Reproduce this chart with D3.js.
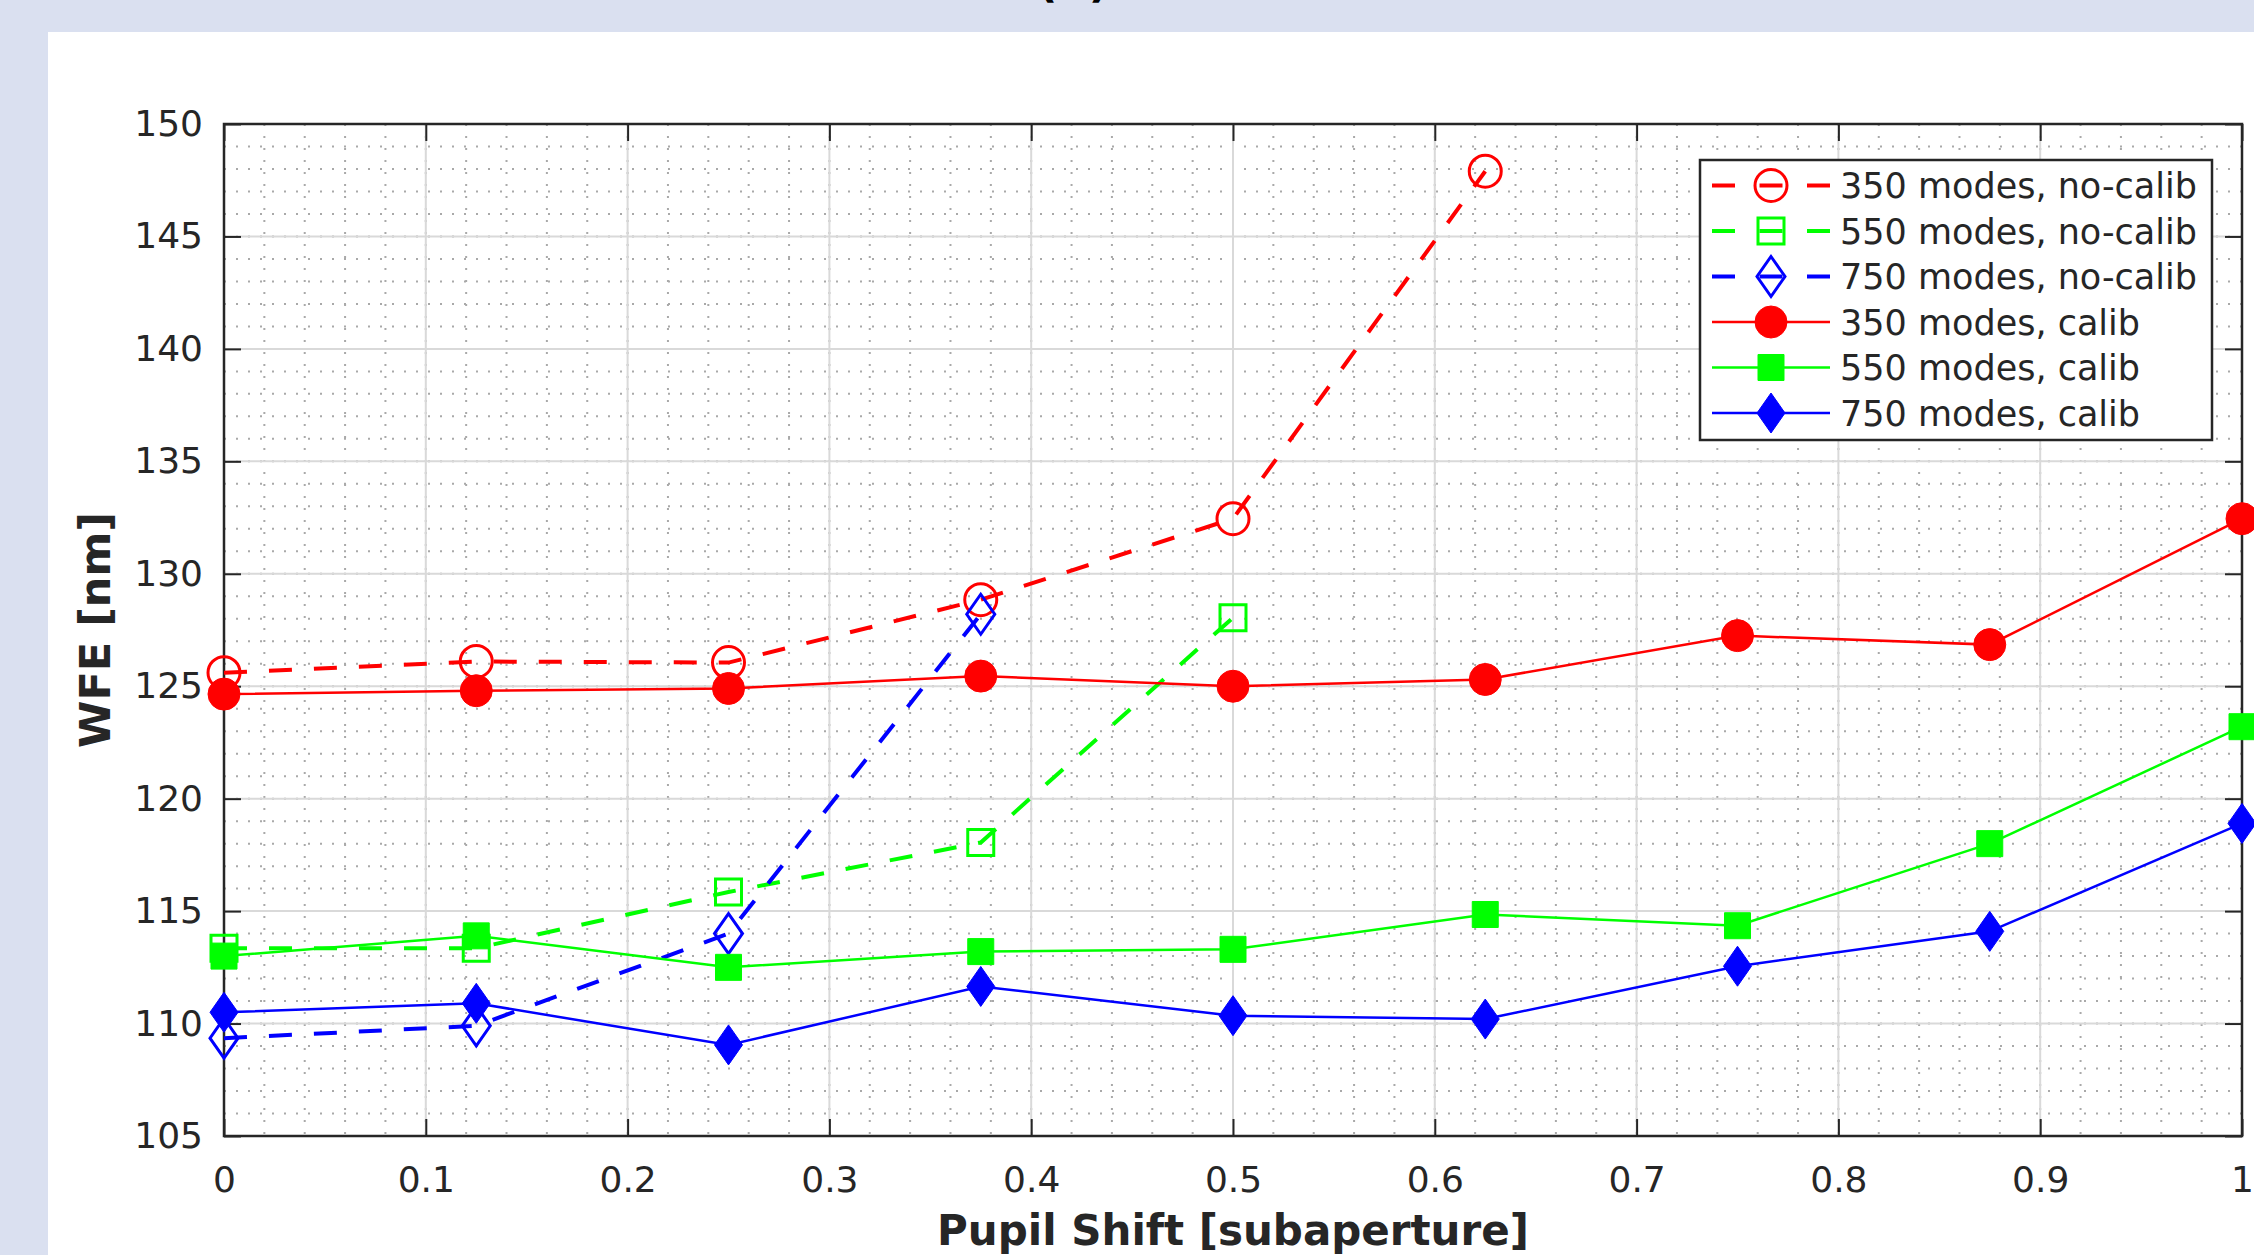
<!DOCTYPE html>
<html>
<head>
<meta charset="utf-8">
<script src="https://cdn.jsdelivr.net/npm/d3@7"></script>
<style>
  html, body { margin: 0; padding: 0; background: #dae0f0; overflow: hidden; }
  svg { display: block; }
  text { font-family: "DejaVu Sans", sans-serif; fill: #262626; }
</style>
</head>
<body>
<div id="chart"></div>
<script>
// Values
const shifts = [0, 0.125, 0.25, 0.375, 0.5, 0.625, 0.75, 0.875, 1];

const noCalib350 = [125.6, 126.1, 126.05, 128.85, 132.45, 147.9];
const noCalib550 = [113.35, 113.35, 115.85, 118.05, 128.05];
const noCalib750 = [109.35, 109.9, 114.0, 128.2];
const calib350 = [124.65, 124.8, 124.9, 125.45, 125.0, 125.3, 127.25, 126.85, 132.45];
const calib550 = [113.0, 113.9, 112.5, 113.2, 113.3, 114.85, 114.35, 118.0, 123.2];
const calib750 = [110.5, 110.9, 109.05, 111.65, 110.35, 110.2, 112.55, 114.1, 118.9];

const seriesNames = [
  '350 modes, no-calib', '550 modes, no-calib', '750 modes, no-calib',
  '350 modes, calib', '550 modes, calib', '750 modes, calib'
];
const xTicks = [0, 0.1, 0.2, 0.3, 0.4, 0.5, 0.6, 0.7, 0.8, 0.9, 1];
const yTicks = [105, 110, 115, 120, 125, 130, 135, 140, 145, 150];

const W = 2254, H = 1255;
const margin = {top: 124, right: 12, bottom: 119, left: 224};
const width = W - margin.left - margin.right;
const height = H - margin.top - margin.bottom;

const svg = d3.select('#chart').append('svg')
  .attr('width', W)
  .attr('height', H);

// white panel over the light blue page
svg.append('rect')
  .attr('x', 48).attr('y', 32)
  .attr('width', W - 48).attr('height', H - 32)
  .attr('fill', '#ffffff');

// bit of the panel title cut off at the top
svg.append('text')
  .attr('x', 1073).attr('y', -3)
  .attr('text-anchor', 'middle')
  .style('font-size', '44px').style('font-weight', 'bold')
  .style('fill', '#000')
  .text('(b)');

const g = svg.append('g')
  .attr('transform', `translate(${margin.left}, ${margin.top})`);

const x = d3.scaleLinear().domain([0, 1]).range([0, width]);
const y = d3.scaleLinear().domain([105, 150]).range([height, 0]);

// minor grid (dotted)
const minorX = d3.range(0, 1.0001, 0.02);
const minorY = d3.range(105, 150.001, 1);
g.append('g').selectAll('line')
  .data(minorX)
  .enter().append('line')
  .attr('x1', d => x(d)).attr('x2', d => x(d))
  .attr('y1', 0).attr('y2', height)
  .attr('stroke', '#a9a9a9').attr('stroke-width', 2)
  .attr('stroke-dasharray', '2 10');
g.append('g').selectAll('line')
  .data(minorY)
  .enter().append('line')
  .attr('y1', d => y(d)).attr('y2', d => y(d))
  .attr('x1', 0).attr('x2', width)
  .attr('stroke', '#a9a9a9').attr('stroke-width', 2)
  .attr('stroke-dasharray', '2 10');

// major grid
g.append('g').selectAll('line')
  .data(xTicks)
  .enter().append('line')
  .attr('x1', d => x(d)).attr('x2', d => x(d))
  .attr('y1', 0).attr('y2', height)
  .attr('stroke', '#d9d9d9').attr('stroke-width', 2);
g.append('g').selectAll('line')
  .data(yTicks)
  .enter().append('line')
  .attr('y1', d => y(d)).attr('y2', d => y(d))
  .attr('x1', 0).attr('x2', width)
  .attr('stroke', '#d9d9d9').attr('stroke-width', 2);

// axes, ticks pointing inward
function styleAxis(sel) {
  sel.select('.domain').remove();
  sel.selectAll('.tick line').attr('stroke', '#262626').attr('stroke-width', 2);
  sel.selectAll('.tick text')
    .style('font-family', '"DejaVu Sans", sans-serif')
    .style('font-size', '36px')
    .attr('fill', '#262626');
}

g.append('g')
  .attr('transform', `translate(0, ${height})`)
  .call(d3.axisBottom(x).tickValues(xTicks).tickSizeInner(-17).tickSizeOuter(0)
    .tickPadding(30).tickFormat(d3.format('')))
  .call(styleAxis);

g.append('g')
  .call(d3.axisLeft(y).tickValues(yTicks).tickSizeInner(-17).tickSizeOuter(0)
    .tickPadding(21))
  .call(styleAxis);

g.append('g')
  .call(d3.axisTop(x).tickValues(xTicks).tickSizeInner(-17).tickSizeOuter(0).tickFormat(''))
  .call(styleAxis);

g.append('g')
  .attr('transform', `translate(${width}, 0)`)
  .call(d3.axisRight(y).tickValues(yTicks).tickSizeInner(-17).tickSizeOuter(0).tickFormat(''))
  .call(styleAxis);

g.append('rect')
  .attr('x', 0).attr('y', 0)
  .attr('width', width).attr('height', height)
  .attr('fill', 'none')
  .attr('stroke', '#262626').attr('stroke-width', 2.5);

// series
const series = [
  {name: seriesNames[0], values: noCalib350, color: '#ff0000', dashed: true,  marker: 'circle',  filled: false},
  {name: seriesNames[1], values: noCalib550, color: '#00ff00', dashed: true,  marker: 'square',  filled: false},
  {name: seriesNames[2], values: noCalib750, color: '#0000ff', dashed: true,  marker: 'diamond', filled: false},
  {name: seriesNames[3], values: calib350,   color: '#ff0000', dashed: false, marker: 'circle',  filled: true},
  {name: seriesNames[4], values: calib550,   color: '#00ff00', dashed: false, marker: 'square',  filled: true},
  {name: seriesNames[5], values: calib750,   color: '#0000ff', dashed: false, marker: 'diamond', filled: true}
];

function markerPath(type) {
  if (type === 'circle') return d3.symbol(d3.symbolCircle, Math.PI * 16 * 16)();
  if (type === 'square') return d3.symbol(d3.symbolSquare, 26 * 26)();
  return 'M0,-20L14,0L0,20L-14,0Z';
}

function drawMarker(sel, s) {
  sel.append('path')
    .attr('d', markerPath(s.marker))
    .attr('fill', s.filled ? s.color : 'none')
    .attr('stroke', s.color)
    .attr('stroke-width', s.filled ? 1 : 3);
}

const line = d3.line()
  .x(d => x(d[0]))
  .y(d => y(d[1]));

series.forEach(s => {
  const pts = s.values.map((v, i) => [shifts[i], v]);
  const sg = g.append('g');
  sg.append('path')
    .datum(pts)
    .attr('d', line)
    .attr('fill', 'none')
    .attr('stroke', s.color)
    .attr('stroke-width', s.dashed ? 4 : 2.5)
    .attr('stroke-dasharray', s.dashed ? '23 22' : null);
  sg.selectAll('g.pt')
    .data(pts)
    .enter().append('g')
    .attr('class', 'pt')
    .attr('transform', d => `translate(${x(d[0])}, ${y(d[1])})`)
    .each(function() { drawMarker(d3.select(this), s); });
});

// legend
const legend = svg.append('g');
legend.append('rect')
  .attr('x', 1700).attr('y', 160)
  .attr('width', 512).attr('height', 280)
  .attr('fill', '#ffffff')
  .attr('stroke', '#262626').attr('stroke-width', 2.5);

const rowY = d3.scaleLinear().domain([0, 5]).range([185.5, 413]);
series.forEach((s, i) => {
  const row = legend.append('g').attr('transform', `translate(0, ${rowY(i)})`);
  row.append('line')
    .attr('x1', 1712).attr('x2', 1830)
    .attr('y1', 0).attr('y2', 0)
    .attr('stroke', s.color)
    .attr('stroke-width', s.dashed ? 4 : 2.5)
    .attr('stroke-dasharray', s.dashed ? '23 24.5' : null);
  const m = row.append('g').attr('transform', 'translate(1771, 0)');
  drawMarker(m, s);
  row.append('text')
    .attr('x', 1840).attr('y', 0)
    .attr('dy', '0.36em')
    .style('font-size', '35px')
    .text(s.name);
});

// axis labels
svg.append('text')
  .attr('x', margin.left + width / 2).attr('y', 1245)
  .attr('text-anchor', 'middle')
  .style('font-size', '42px').style('font-weight', 'bold')
  .text('Pupil Shift [subaperture]');

svg.append('text')
  .attr('transform', `translate(95, ${margin.top + height / 2}) rotate(-90)`)
  .attr('text-anchor', 'middle')
  .attr('dy', '0.36em')
  .style('font-size', '43px').style('font-weight', 'bold')
  .text('WFE [nm]');
</script>
</body>
</html>
